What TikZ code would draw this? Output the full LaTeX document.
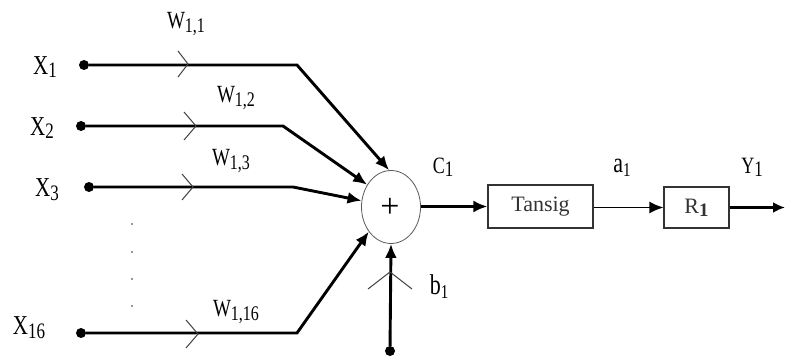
\documentclass[tikz,border=0pt]{standalone}
\usepackage{graphicx}
\usepackage{fontspec}
\setmainfont{Liberation Serif}
\usetikzlibrary{arrows.meta,calc,shapes.geometric}
% lowered, slightly smaller index digits (optional size in pt)
\newcommand{\idx}[2][17]{\raisebox{-0.3ex}{\fontsize{#1}{#1}\selectfont#2}}
% labels outside the blocks are set a little taller than wide
\newcommand{\tall}[1]{\scalebox{1}[1.3]{#1}}
\begin{document}
\begin{tikzpicture}[x=1pt,y=-1pt,
  inp/.style={line width=2.9pt},
  tip/.style={-{Latex[length=14pt,width=12pt]}},
  dot/.style={circle,fill=black,inner sep=0pt,minimum size=10pt},
  lbl/.style={font=\fontsize{21}{25}\selectfont,inner sep=0pt},
  wlbl/.style={font=\fontsize{19}{23}\selectfont,inner sep=0pt},
  slbl/.style={font=\fontsize{18}{22}\selectfont,inner sep=0pt},
  blbl/.style={font=\fontsize{22}{26}\selectfont,inner sep=0pt},
  chev/.style={line width=1pt,black!75},
  blk/.style={draw,line width=1.1pt,black!80,inner sep=0pt,font=\fontsize{22}{26}\selectfont}]
\useasboundingbox (0,0) rectangle (785,358);

% input terminals
\node[dot] (x1) at (84,65) {};
\node[dot] (x2) at (81,126) {};
\node[dot] (x3) at (89,187) {};
\node[dot] (x16) at (81,333) {};
\node[dot] (bdot) at (390,351) {};

% input labels
\node[lbl] (lx1) at (45,67) {\tall{X\idx{1}}};
\node[lbl] (lx2) at (42,128) {\tall{X\idx{2}}};
\node[lbl] (lx3) at (47,190) {\tall{X\idx{3}}};
\node[lbl] (lx16) at (29,328) {\tall{X\idx{16}}};

% weight labels
\node[wlbl] (w11) at (186,24) {\tall{W\idx[16]{1,1}}};
\node[wlbl] (w12) at (236,98) {\tall{W\idx[16]{1,2}}};
\node[wlbl] (w13) at (231,161) {\tall{W\idx[16]{1,3}}};
\node[wlbl] (w116) at (236,312) {\tall{W\idx[16]{1,16}}};

% summing junction
\node[draw,ellipse,line width=0.8pt,black!65,minimum width=59pt,minimum height=73pt,inner sep=0pt] (sum) at (391,207) {};
\node[font=\fontsize{34}{34}\selectfont,inner sep=0pt] (plus) at (390,208) {+};

% knees of the input lines
\coordinate (k1) at (297,65);
\coordinate (k2) at (283,126);
\coordinate (k3) at (293,187);
\coordinate (k16) at (297,333);

\draw[inp,tip] (x1) -- (k1) -- (sum.93);
\draw[inp,tip] (x2) -- (k2) -- (sum.137);
\draw[inp,tip] (x3) -- (k3) -- (sum.168);
\draw[inp,tip] (x16) -- (k16) -- (sum.228);
\draw[inp,tip] (bdot) -- (sum.south);

% direction marks on the inputs
\draw[chev] (178,51) -- (188,64) -- (178,77);
\draw[chev] (184,112) -- (196,126) -- (184,140);
\draw[chev] (182,174) -- (193,187) -- (182,200);
\draw[chev] (186,320) -- (198,334) -- (186,348);
\draw[chev] (368,289) -- (390,272) -- (412,289);

% omitted inputs
\foreach \yy in {224,252,279,306}
  \fill[black!55] (132,\yy) circle (1.2pt);

% bias and sum labels
\node[blbl] (lb1) at (439,287) {\tall{b\idx[15]{1}}};
\node[slbl] (lc1) at (443,167) {\tall{C\idx{1}}};

% transfer function and output block
\node[blk,minimum width=105pt,minimum height=43pt] (tansig) at (540.5,206.5) {Tansig};
\node[blk,minimum width=65pt,minimum height=41pt,font=\fontsize{22}{26}\selectfont] (r1) at (696.5,207.5) {R\idx[19]{\textbf{1}}};
\coordinate (yend) at (785,207.5);

\draw[inp,tip] (sum.east |- tansig.west) -- (tansig.west);
\draw[line width=1.8pt,tip] (tansig.east |- r1.west) -- (r1.west);
\draw[line width=3.4pt,-{Latex[length=12pt,width=11pt]}] (r1.east) -- (yend);

\node[blbl] (la1) at (622,168) {\tall{a\idx[15]{1}}};
\node[slbl] (ly1) at (752,167) {\tall{Y\idx{1}}};
\end{tikzpicture}
\end{document}
